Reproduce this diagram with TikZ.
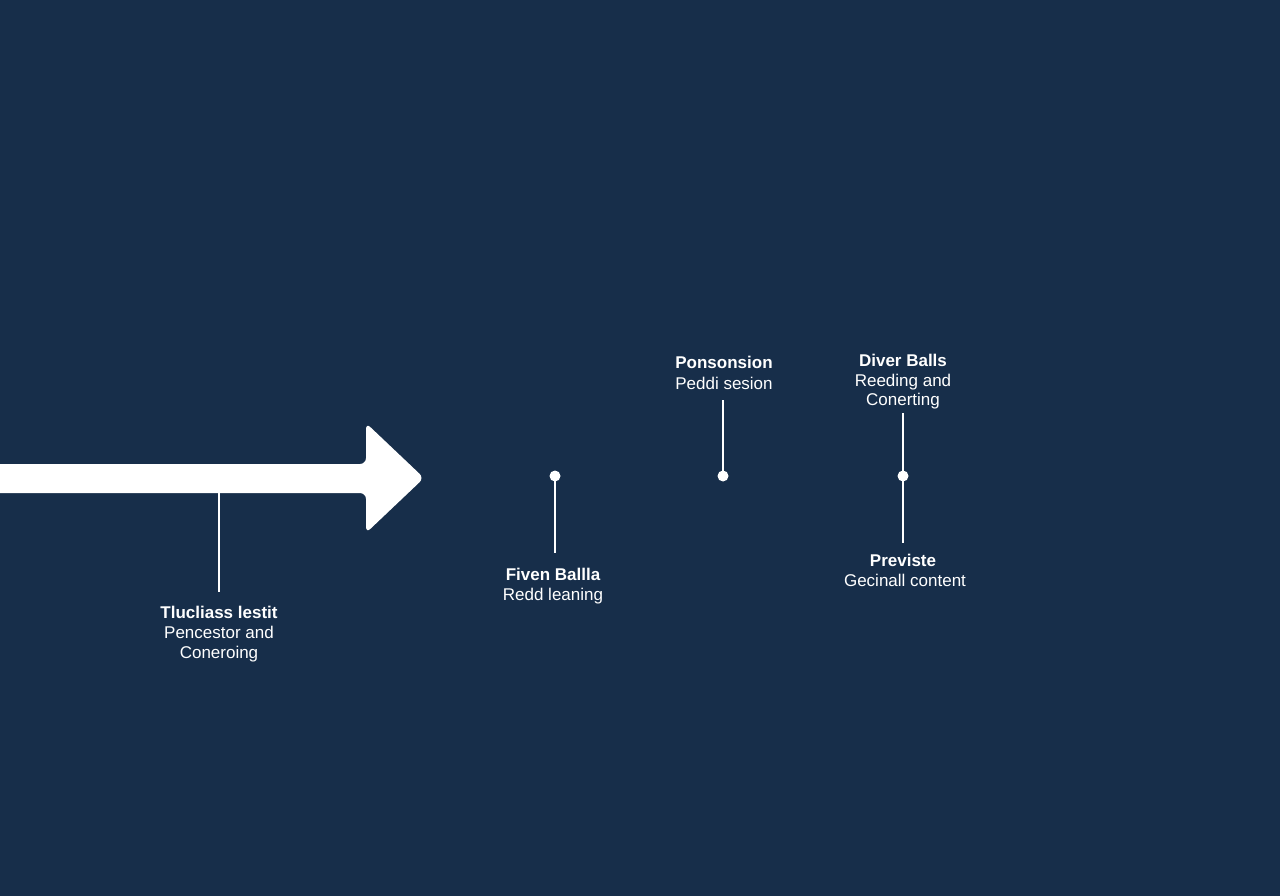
\documentclass[tikz,border=0pt]{standalone}
\usepackage{fontspec}
\setmainfont{Liberation Sans}
\definecolor{bg}{RGB}{23,46,74}
\begin{document}
\begin{tikzpicture}[x=1pt,y=-1pt,
  lbl/.style={text=white,anchor=base,inner sep=0pt,font=\fontsize{17}{20}\selectfont},
  ttl/.style={lbl,font=\fontsize{17}{20}\selectfont\bfseries},
  stem/.style={draw=white,line width=2.6pt},
  dot/.style={circle,fill=white,inner sep=0pt,minimum size=11pt}]
\fill[bg] (0,0) rectangle (1280,896);
\useasboundingbox (0,0) rectangle (1280,896);
% main arrow
\fill[white,rounded corners=6pt] (-10,464) -- (366,464) -- (366,423) -- (424,478) -- (366,533) -- (366,493) -- (-10,493) -- cycle;
\coordinate (a1) at (219,492);
% label 1
\node[ttl] (t1a) at (219,618) {Tlucliass lestit};
\node[lbl] (t1b) at (219,638) {Pencestor and};
\node[lbl] (t1c) at (219,658) {Coneroing};
\coordinate (e1) at (219,592);
\draw[stem] (a1) -- (e1);
% item 2
\node[dot] (d2) at (555,476) {};
\coordinate (e2) at (555,553);
\draw[stem] (d2.center) -- (e2);
\node[ttl] (t2a) at (553,580) {Fiven Ballla};
\node[lbl] (t2b) at (553,600) {Redd leaning};
% item 3
\node[ttl] (t3a) at (724,368) {Ponsonsion};
\node[lbl] (t3b) at (724,389) {Peddi sesion};
\coordinate (s3) at (723,400);
\node[dot] (d3) at (723,476) {};
\draw[stem] (s3) -- (d3.center);
% item 4
\node[ttl] (t4a) at (903,366) {Diver Balls};
\node[lbl] (t4b) at (903,386) {Reeding and};
\node[lbl] (t4c) at (903,405) {Conerting};
\coordinate (s4) at (903,413);
\coordinate (e4) at (903,543);
\node[dot] (d4) at (903,476) {};
\draw[stem] (s4) -- (e4);
\node[ttl] (t4d) at (903,566) {Previste};
\node[lbl] (t4e) at (905,586) {Gecinall content};
\end{tikzpicture}
\end{document}
